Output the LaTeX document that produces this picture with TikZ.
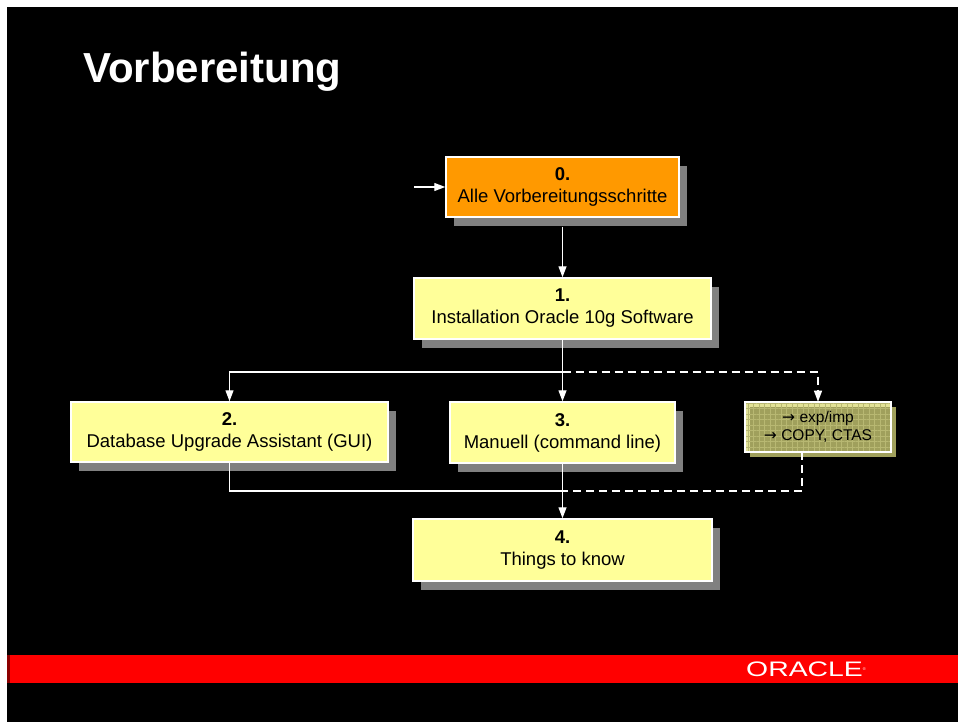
\documentclass[tikz,border=0pt]{standalone}
\usepackage{fontspec}
\setmainfont{Liberation Sans}
\newfontfamily\arrowfont{DejaVu Sans}
\usetikzlibrary{arrows.meta, shadows, patterns.meta}

\definecolor{stepyellow}{HTML}{FFFF99}
\definecolor{steporange}{HTML}{FF9900}
\definecolor{shadowgray}{HTML}{808080}
\definecolor{gridbg}{HTML}{E2E296}
\definecolor{gridline}{HTML}{B8B872}
\definecolor{gridshadow}{HTML}{A0A05C}
\definecolor{bandred}{HTML}{FF0000}

\newcommand{\ra}{{\arrowfont →}}

\begin{document}
\begin{tikzpicture}[x=1pt, y=-1pt,
    % Step box style
    stepbox/.style={
        rectangle,
        draw=white,
        line width=1.5pt,
        fill=stepyellow,
        align=center,
        inner sep=0pt,
        font=\fontsize{18.5}{22}\selectfont,
        drop shadow={shadow xshift=8pt, shadow yshift=-9pt, fill=shadowgray, opacity=1}
    },
    % Start step style
    startbox/.style={
        stepbox,
        fill=steporange
    },
    % Alternative methods box style
    altbox/.style={
        rectangle,
        draw=white,
        line width=1.8pt,
        preaction={fill=gridbg},
        pattern={Hatch[distance=5.5pt, line width=0.6pt]},
        pattern color=gridline,
        align=center,
        inner sep=0pt,
        font=\fontsize{15.5}{18}\selectfont,
        drop shadow={shadow xshift=5pt, shadow yshift=-5pt, fill=gridshadow, opacity=1}
    },
    % Arrow style
    arrow/.style={
        -{Triangle[length=11pt, width=8pt]},
        white,
        line width=1.3pt
    },
    % Plain line style
    link/.style={
        white,
        line width=1.3pt
    },
    % Dashed line style
    dashlink/.style={
        white,
        line width=1.3pt,
        dash pattern=on 8pt off 5pt
    }
]

% === Slide background ===
\fill[white] (0,0) rectangle (958,722);
\fill[black] (7,7) rectangle (958,722);
\fill[bandred] (7,655) rectangle (958,683);
\fill[red!55!black] (7,655) rectangle (10,683);

% === Title ===
\node[font=\fontsize{42}{50}\selectfont\bfseries, text=white, anchor=base west, inner sep=0pt] (title) at (83,83) {Vorbereitung};

% === Steps ===
\node[startbox, minimum width=233pt, minimum height=60pt] (prep) at (562.5,187) {\textbf{0.}\\Alle Vorbereitungsschritte};
\node[stepbox, minimum width=297pt, minimum height=61pt] (install) at (562.5,308.5) {\textbf{1.}\\Installation Oracle 10g Software};
\node[stepbox, minimum width=317pt, minimum height=60pt] (dbua) at (229.5,432) {\textbf{2.}\\Database Upgrade Assistant (GUI)};
\node[stepbox, minimum width=225pt, minimum height=61pt] (manual) at (562.5,432.5) {\textbf{3.}\\Manuell (command line)};
\node[altbox, minimum width=146pt, minimum height=50pt] (expimp) at (818,427) {\ra{} exp/imp\\\ra{} COPY, CTAS};
\node[stepbox, minimum width=299pt, minimum height=62pt] (know) at (562.5,550) {\textbf{4.}\\Things to know};

% === Branch points ===
\coordinate (entry) at (414,187);
\coordinate (split) at (562.5,372);
\coordinate (join) at (562.5,491);

% === Arrows ===
\draw[arrow] (entry) -- (prep.west);
\draw[arrow] ([yshift=-9pt]prep.south) -- (install.north);
\draw[arrow] (install.south) -- (manual.north);
\draw[arrow] (split) -| (dbua.north);
\draw[arrow, dash pattern=on 8pt off 5pt] (split) -| (expimp.north);
\draw[arrow] (manual.south) -- (know.north);
\draw[link] (dbua.south) |- (join);
\draw[dashlink] ([xshift=-16pt]expimp.south) |- (join);

% === Logo ===
\node[text=white, font=\fontsize{21}{21}\selectfont, inner sep=0pt] (logo) at (806,669) {\scalebox{1.35}[1]{ORACLE}\raisebox{6pt}{\fontsize{4}{4}\selectfont ®}};

\end{tikzpicture}
\end{document}
